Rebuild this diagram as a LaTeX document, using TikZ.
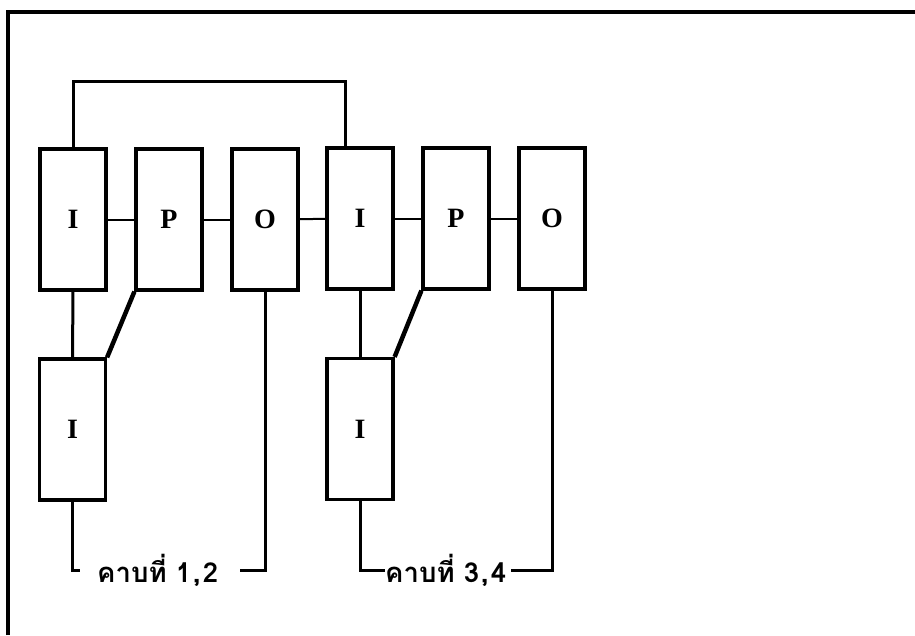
\documentclass[tikz,border=0pt]{standalone}
\usepackage{fontspec}
\setmainfont{Liberation Serif}
\newfontfamily\thaifont[Script=Thai]{Loma}
\begin{document}
\begin{tikzpicture}[x=1pt,y=-1pt,
  ipobox/.style={draw,line width=3.2pt,minimum width=66pt,minimum height=141pt,inner sep=0pt,
    font=\fontsize{28}{28}\selectfont\bfseries},
  link/.style={line width=2pt},
  stem/.style={line width=3pt},
  slant/.style={line width=4.5pt},
  frame/.style={line width=3.5pt},
  lab/.style={inner sep=0pt,font=\thaifont\fontsize{27.5}{28}\selectfont\bfseries}]
\useasboundingbox (0,0) rectangle (915,635);
% frame
\coordinate (fa) at (8,635);
\coordinate (fb) at (8,12);
\coordinate (fc) at (915,12);
\draw[frame] (fa) -- (fb) -- (fc);
% boxes
\node[ipobox] (I1) at (73,219.5) {I};
\node[ipobox] (P1) at (169,219.5) {P};
\node[ipobox] (O1) at (265,219.5) {O};
\node[ipobox] (I2) at (360,218.5) {I};
\node[ipobox] (P2) at (456,218.5) {P};
\node[ipobox] (O2) at (552,218.5) {O};
\node[ipobox] (I3) at (72.5,429.5) {I};
\node[ipobox] (I4) at (360,429) {I};
% horizontal links
\draw[link] (I1) -- (P1);
\draw[link] (P1) -- (O1);
\draw[link] (O1) -- (I2);
\draw[link] (I2) -- (P2);
\draw[link] (P2) -- (O2);
% top connector
\coordinate (t1) at (73,81);
\draw[stem] (I1.north) -- (t1) -| ([xshift=-15pt]I2.north);
% vertical links
\draw[stem] (I1.south) -- (I3.north);
\draw[stem] (I2.south) -- (I4.north);
\draw[slant] (P1.south west) -- (I3.north east);
\draw[slant] (P2.south west) -- (I4.north east);
% labels
\node[lab,anchor=base west] (L1) at (97,582) {คาบที่ 1\kern2pt,\kern2pt2};
\node[lab,anchor=base west] (L2) at (385,582) {คาบที่ 3\kern2pt,\kern2pt4};
\coordinate (b1a) at (80,570);
\coordinate (b1b) at (240,570);
\coordinate (b2a) at (385,570);
\coordinate (b2b) at (511,570);
\draw[stem] (I3.south) |- (b1a);
\draw[stem] (b1b) -| (O1.south);
\draw[stem] (I4.south) |- (b2a);
\draw[stem] (b2b) -| (O2.south);
\end{tikzpicture}
\end{document}
